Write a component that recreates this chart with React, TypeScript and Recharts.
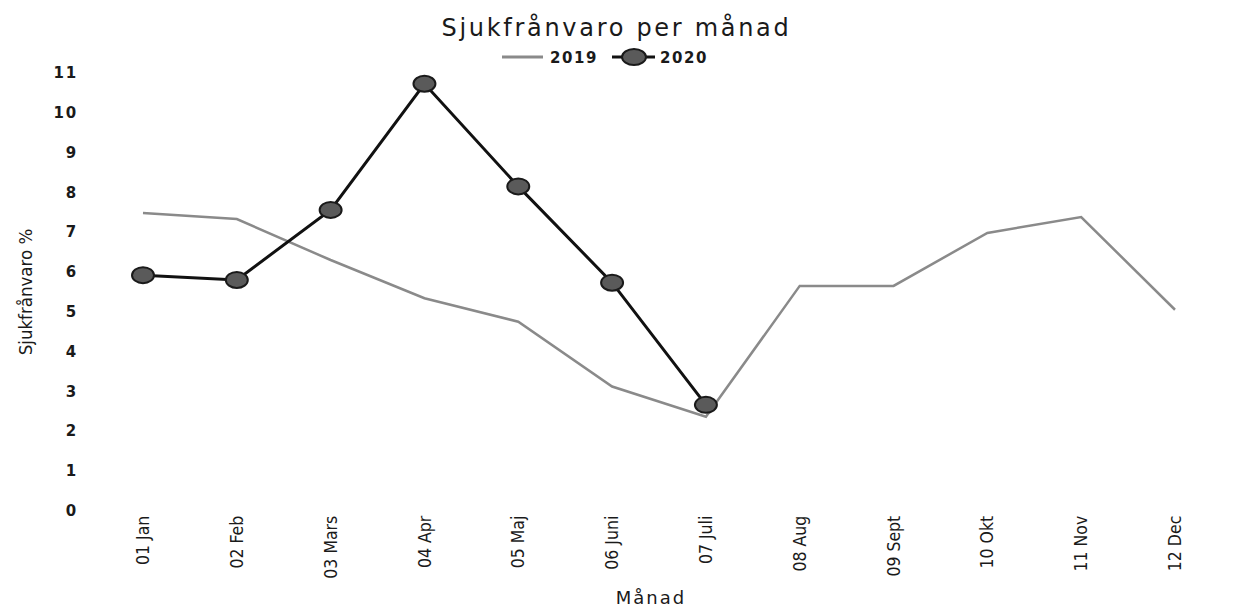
import React from "react";
import { LineChart, Line, XAxis, YAxis, Legend, Label } from "recharts";

const months = ["01 Jan", "02 Feb", "03 Mars", "04 Apr", "05 Maj", "06 Juni", "07 Juli", "08 Aug", "09 Sept", "10 Okt", "11 Nov", "12 Dec"];
const sick2019 = [7.48, 7.33, 6.3, 5.34, 4.75, 3.12, 2.36, 5.65, 5.65, 6.98, 7.38, 5.05];
const sick2020: (number | null)[] = [5.92, 5.8, 7.56, 10.73, 8.15, 5.73, 2.66, null, null, null, null, null];
const yTicks = [0, 1, 2, 3, 4, 5, 6, 7, 8, 9, 10, 11];
const seriesNames = ["2019", "2020"];
const title = "Sjukfrånvaro per månad";
const xTitle = "Månad";
const yTitle = "Sjukfrånvaro %";

const data = months.map((m, i) => ({ month: m, y2019: sick2019[i], y2020: sick2020[i] }));

const W = 1217;
const H = 600;
const WIDE = "'DejaVu Sans', Verdana, sans-serif";
const NARROW = "'Liberation Sans Narrow', 'DejaVu Sans Condensed', 'Arial Narrow', sans-serif";

const XTick = (props: any) => {
  const { x, y, payload } = props;
  return (
    <text
      x={x}
      y={y}
      transform={`rotate(-90, ${x}, ${y})`}
      textAnchor="end"
      dy="0.35em"
      fontFamily={NARROW}
      fontSize={17.5}
      fill="#1a1a1a"
    >
      {payload.value}
    </text>
  );
};

const YTick = (props: any) => {
  const { x, y, payload } = props;
  return (
    <text x={x} y={y} textAnchor="end" dy="0.35em" fontFamily={WIDE} fontSize={15} fontWeight="bold" letterSpacing={1.8} fill="#1a1a1a">
      {payload.value}
    </text>
  );
};

const Dot2020 = (props: any) => {
  const { cx, cy, index, value } = props;
  if (cx == null || cy == null || value == null) return <g key={`d-${index}`} />;
  return <ellipse key={`d-${index}`} cx={cx} cy={cy} rx={11} ry={8} fill="#5a5a5a" stroke="#1a1a1a" strokeWidth={2} />;
};

const renderLegend = () => (
  <svg width={W} height={20} style={{ display: "block" }}>
    <line x1={494} x2={535} y1={10} y2={10} stroke="#8a8a8a" strokeWidth={3} />
    <text x={542} y={15.5} fontFamily={WIDE} fontSize={15} fontWeight="bold" letterSpacing={1.6} fill="#1a1a1a">
      {seriesNames[0]}
    </text>
    <line x1={604} x2={647} y1={10} y2={10} stroke="#111" strokeWidth={3} />
    <ellipse cx={626} cy={10} rx={12} ry={8} fill="#5a5a5a" stroke="#1a1a1a" strokeWidth={2} />
    <text x={652} y={15.5} fontFamily={WIDE} fontSize={15} fontWeight="bold" letterSpacing={1.6} fill="#1a1a1a">
      {seriesNames[1]}
    </text>
  </svg>
);

export default function App() {
  return (
    <div style={{ position: "relative", width: W, height: H, background: "#fff" }}>
      <div
        style={{
          position: "absolute",
          top: 8,
          left: 0,
          width: W,
          textAlign: "center",
          fontFamily: WIDE,
          fontSize: 24,
          lineHeight: "24px",
          letterSpacing: "2.7px",
          color: "#1a1a1a",
          zIndex: 2,
        }}
      >
        {title}
      </div>
      <LineChart width={W} height={H} data={data} margin={{ top: 65, right: 50, bottom: 2.3, left: 0 }}>
        <XAxis
          dataKey="month"
          type="category"
          height={95}
          axisLine={false}
          tickLine={false}
          tickSize={0}
          tickMargin={5}
          interval={0}
          tick={<XTick />}
        >
          <Label
            content={(p: any) => {
              const vb = p.viewBox;
              return (
                <text
                  x={vb.x + vb.width / 2 - 8}
                  y={590}
                  textAnchor="middle"
                  dy="0.35em"
                  fontFamily={WIDE}
                  fontSize={18}
                  letterSpacing={2}
                  fill="#1a1a1a"
                >
                  {xTitle}
                </text>
              );
            }}
          />
        </XAxis>
        <YAxis
          domain={[0, 11]}
          ticks={yTicks}
          width={135}
          axisLine={false}
          tickLine={false}
          tickSize={0}
          tickMargin={65}
          interval={0}
          tick={<YTick />}
        >
          <Label
            content={() => (
              <text
                x={18}
                y={284}
                transform="rotate(-90, 18, 284)"
                textAnchor="middle"
                dy="0.35em"
                fontFamily={NARROW}
                fontSize={18.5}
                fill="#1a1a1a"
              >
                {yTitle}
              </text>
            )}
          />
        </YAxis>
        <Legend
          layout="horizontal"
          verticalAlign="middle"
          align="center"
          content={renderLegend}
          wrapperStyle={{ top: 39, left: 0, width: W, height: 20 }}
        />
        <Line
          type="linear"
          dataKey="y2019"
          name={seriesNames[0]}
          stroke="#8a8a8a"
          strokeWidth={2.5}
          dot={false}
          activeDot={false}
          isAnimationActive={false}
        />
        <Line
          type="linear"
          dataKey="y2020"
          name={seriesNames[1]}
          stroke="#111"
          strokeWidth={3}
          dot={<Dot2020 />}
          activeDot={false}
          connectNulls={false}
          isAnimationActive={false}
        />
      </LineChart>
    </div>
  );
}
